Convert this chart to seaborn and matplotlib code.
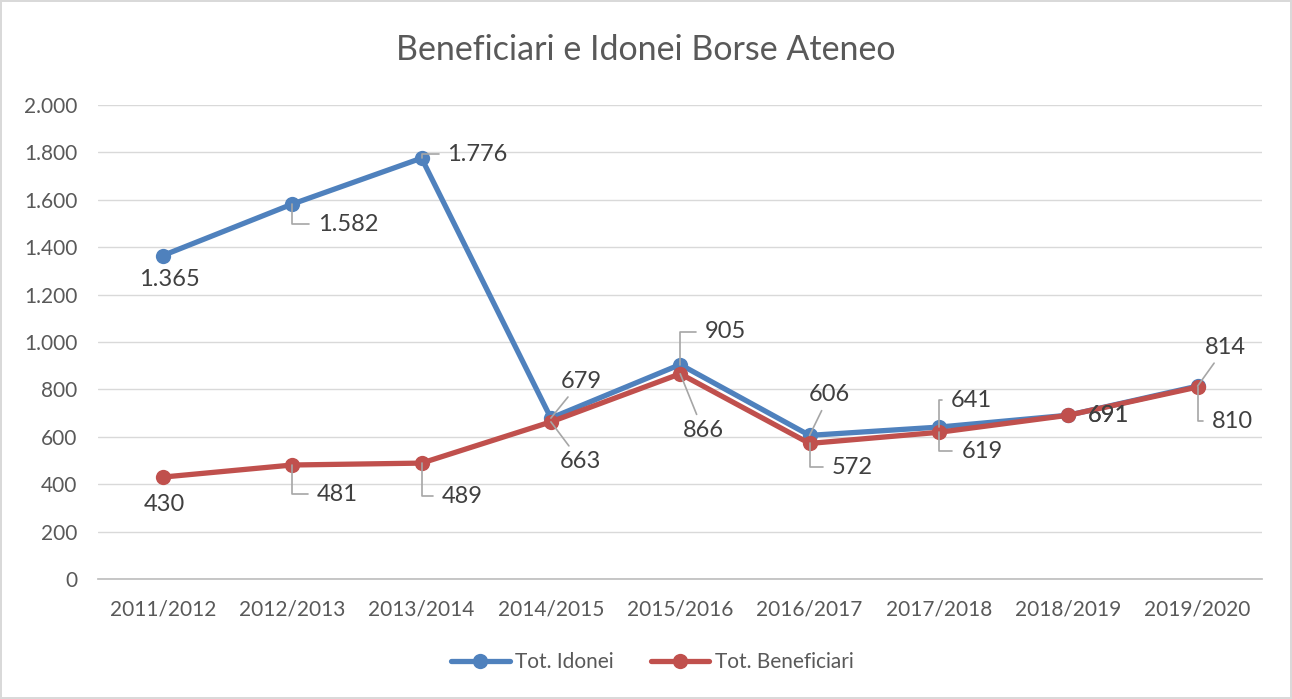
import pandas as pd
import matplotlib.pyplot as plt
import seaborn as sns
from matplotlib.ticker import FuncFormatter

# data
anni = ['2011/2012', '2012/2013', '2013/2014', '2014/2015', '2015/2016',
        '2016/2017', '2017/2018', '2018/2019', '2019/2020']
idonei = [1365, 1582, 1776, 679, 905, 606, 641, 691, 814]
beneficiari = [430, 481, 489, 663, 866, 572, 619, 691, 810]

df = pd.DataFrame({'anno': anni * 2,
                   'valore': idonei + beneficiari,
                   'serie': ['Tot. Idonei'] * 9 + ['Tot. Beneficiari'] * 9})

sns.set_theme(style='white')
plt.rcParams['font.family'] = ['Lato', 'DejaVu Sans']
text_col = '#595959'

fig = plt.figure(figsize=(12.92, 6.99), dpi=100)
fig.patch.set_edgecolor('#d9d9d9')
fig.patch.set_linewidth(1.5)
ax = fig.add_axes([0.076, 0.1717, 0.901, 0.678])

sns.lineplot(data=df, x='anno', y='valore', hue='serie', sort=False,
             palette=['#4F81BD', '#C0504D'], marker='o', markersize=11,
             markeredgewidth=0, linewidth=3.8, ax=ax)

ax.set_xlim(-0.5, 8.5)
ax.set_ylim(0, 2000)
ax.set_yticks(range(0, 2001, 200))
ax.yaxis.set_major_formatter(FuncFormatter(lambda v, p: f'{v:,.0f}'.replace(',', '.')))
ax.grid(axis='y', color='#d9d9d9', linewidth=1)
ax.set_axisbelow(True)
for s in ['left', 'right', 'top']:
    ax.spines[s].set_visible(False)
ax.spines['bottom'].set_color('#bfbfbf')
ax.tick_params(axis='both', length=0, labelsize=15, colors=text_col)
ax.tick_params(axis='x', pad=15)
ax.tick_params(axis='y', pad=15)
ax.set_xlabel('')
ax.set_ylabel('')

fig.text(0.5, 0.928, 'Beneficiari e Idonei Borse Ateneo', ha='center', va='center',
         fontsize=24.5, color=text_col)

# label offsets (pixels) and leader style: None, 'elbow', 'diag'
lab_idonei = [((7, -24), None), ((56, -20), 'elbow'), ((56, 4), 'elbow'),
              ((30, 37), 'diag'), ((45, 33), 'elbow'), ((20, 41), 'diag'),
              ((32, 27), 'elbow'), ((40, 0), None), ((28, 39), 'diag')]
lab_benef = [((2, -27), None), ((45, -29), 'elbow'), ((41, -33), 'elbow'),
             ((30, -40), 'diag'), ((23, -57), 'diag'), ((43, -24), 'elbow'),
             ((43, -19), 'elbow'), ((40, 0), None), ((35, -34), 'elbow')]


def fmt(v):
    return f'{v:,.0f}'.replace(',', '.')


for vals, labs in [(idonei, lab_idonei), (beneficiari, lab_benef)]:
    for i, (v, (off, kind)) in enumerate(zip(vals, labs)):
        kw = {}
        if kind == 'elbow':
            kw['arrowprops'] = dict(arrowstyle='-', color='#a6a6a6', lw=1.2,
                                    connectionstyle='angle,angleA=0,angleB=90,rad=0',
                                    relpos=(0, 0.5), shrinkA=4, shrinkB=0)
        elif kind == 'diag':
            kw['arrowprops'] = dict(arrowstyle='-', color='#a6a6a6', lw=1.2,
                                    shrinkA=2, shrinkB=0)
        ax.annotate(fmt(v), xy=(i, v), xytext=off, textcoords='offset pixels',
                    ha='center', va='center', fontsize=17, color='#404040', **kw)

leg = ax.legend(loc='center', bbox_to_anchor=(0.476, -0.175), ncol=2, frameon=False,
                fontsize=15, handlelength=2.8, columnspacing=1.8, handletextpad=0.25)
for t in leg.get_texts():
    t.set_color(text_col)

fig.savefig('out.png', dpi=100, edgecolor=fig.get_edgecolor())
